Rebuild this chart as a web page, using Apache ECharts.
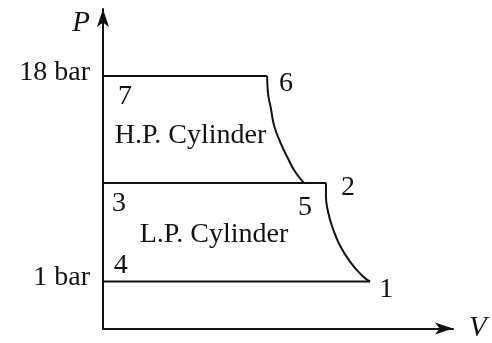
<!DOCTYPE html>
<html>
<head>
<meta charset="utf-8">
<title>Two-stage compression P–V diagram</title>
<script src="https://cdn.jsdelivr.net/npm/echarts@6/dist/echarts.min.js"></script>
<style>
  html, body { margin: 0; padding: 0; background: #ffffff; }
  #chart { width: 492px; height: 343px; }
</style>
</head>
<body>
<div id="chart"></div>
<script>
// Pressure levels (bar)
const pressureLevels = { high: 18, mid: 4, low: 1 };
const pressureTicks = [1, 18];

// End-of-stroke volumes (schematic units)
const volHPDelivery = 46.9;   // point 6
const volHPSuction = 57.4;    // point 5
const volLPDelivery = 63.7;   // point 2
const volLPSuction = 76.3;    // point 1

// H.P. compression curve 5 -> 6 (V, P)
const hpCurveV = [46.9, 47.1, 48.0, 48.9, 50.6, 52.9, 54.9, 57.4];
const hpCurveP = [18, 14.4, 11.3, 8.93, 7.13, 5.62, 4.68, 4];

// L.P. compression curve 1 -> 2 (V, P)
const lpCurveV = [63.7, 63.7, 64.3, 65.7, 67.7, 70.6, 74.0, 76.3];
const lpCurveP = [4, 3.34, 2.67, 2.10, 1.66, 1.32, 1.09, 1];

// Point numbers and region names, placed in (V, P)
const annotationText = ['7', '6', '3', '5', '2', '4', '1', 'H.P. Cylinder', 'L.P. Cylinder'];
const annotationV = [6.3, 52.3, 4.6, 57.7, 70.0, 5.1, 80.9, 25.0, 31.7];
const annotationP = [13.98, 16.8, 3.12, 2.95, 3.9, 1.31, 0.93, 8.09, 2.02];

const ink = '#111111';
const serif = "'Liberation Serif', 'Times New Roman', serif";
const fontSize = 28;

const zip = (xs, ys) => xs.map((x, i) => [x, ys[i]]);

const straight = (name, data) => ({
  name, type: 'line', data, smooth: false, symbol: 'none',
  lineStyle: { color: ink, width: 2 }, silent: true, animation: false
});
const curved = (name, data) => ({
  name, type: 'line', data, smooth: 0.5, symbol: 'none',
  lineStyle: { color: ink, width: 2 }, silent: true, animation: false
});

const chart = echarts.init(document.getElementById('chart'), null, { renderer: 'canvas' });
chart.setOption({
  backgroundColor: '#ffffff',
  animation: false,
  grid: { left: 103, right: 39, top: 9, bottom: 14, containLabel: false },
  xAxis: {
    type: 'value', min: 0, max: 100,
    axisLine: {
      onZero: false, symbol: ['none', 'arrow'], symbolSize: [9, 18],
      lineStyle: { color: ink, width: 2 }
    },
    axisTick: { show: false }, axisLabel: { show: false }, splitLine: { show: false },
    name: 'V', nameLocation: 'end', nameGap: 16,
    nameTextStyle: { fontFamily: serif, fontStyle: 'italic', fontSize: 29, color: ink, padding: [14, 0, 0, 0] }
  },
  yAxis: {
    type: 'log', logBase: 10, min: 0.517, max: 46.1,
    axisLine: {
      onZero: false, symbol: ['none', 'arrow'], symbolSize: [9, 18],
      lineStyle: { color: ink, width: 2 }
    },
    axisTick: { show: false }, splitLine: { show: false },
    axisLabel: {
      customValues: pressureTicks,
      formatter: v => v + ' bar',
      fontFamily: serif, fontSize: fontSize, color: ink, margin: 13,
      verticalAlign: 'bottom', lineHeight: 7
    },
    name: 'P', nameLocation: 'end', nameGap: -14,
    nameTextStyle: {
      fontFamily: serif, fontStyle: 'italic', fontSize: 29, color: ink,
      align: 'right', verticalAlign: 'middle', padding: [0, 13, 0, 0]
    }
  },
  series: [
    straight('7-6 delivery', [[0, pressureLevels.high], [volHPDelivery, pressureLevels.high]]),
    curved('5-6 compression', zip(hpCurveV, hpCurveP)),
    straight('3-2 intercooler', [[0, pressureLevels.mid], [volLPDelivery, pressureLevels.mid]]),
    curved('1-2 compression', zip(lpCurveV, lpCurveP)),
    straight('4-1 suction', [[volLPSuction, pressureLevels.low], [0, pressureLevels.low]]),
    {
      name: 'annotations', type: 'scatter', symbolSize: 0, silent: true, clip: false,
      itemStyle: { opacity: 1 },
      data: annotationText.map((t, i) => ({ value: [annotationV[i], annotationP[i]], name: t })),
      label: {
        show: true, position: 'inside', offset: [0, 3], formatter: p => p.name,
        fontFamily: serif, fontSize: fontSize, color: ink, opacity: 1
      }
    }
  ]
});
</script>
</body>
</html>
